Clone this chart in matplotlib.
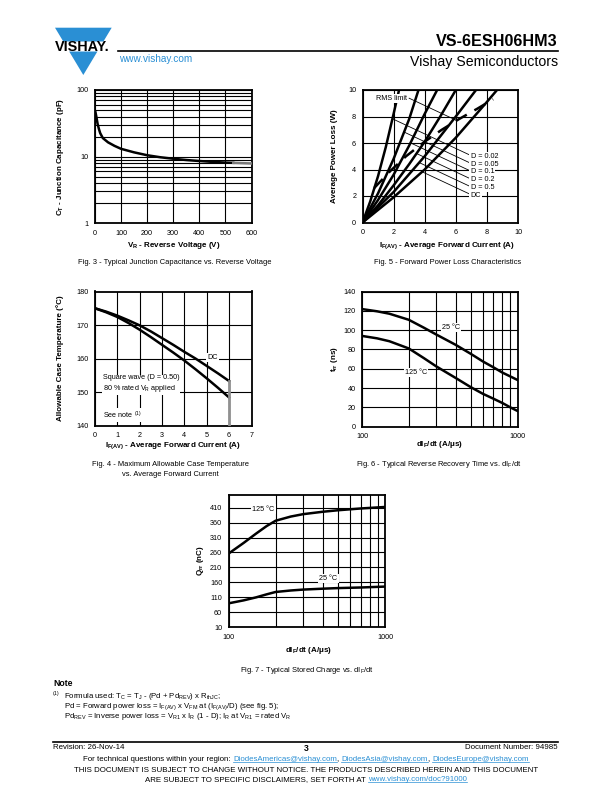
import matplotlib
matplotlib.use("Agg")
import matplotlib.pyplot as plt
import matplotlib.ticker as mt
from matplotlib.patches import Polygon
import numpy as np

plt.rcParams['font.family'] = ['Liberation Sans', 'DejaVu Sans']
plt.rcParams['mathtext.default'] = 'regular'

# ---------------- data ----------------
# Fig. 3 junction capacitance
fig3_vr = [2, 5, 10, 15, 20, 30, 50, 75, 100, 150, 200, 250, 300, 350, 400, 450, 500, 530]
fig3_ct = [46, 40, 31, 26, 22.5, 19, 16.4, 14.5, 13.1, 11.6, 10.5, 9.8, 9.3, 8.9, 8.6, 8.35, 8.15, 8.08]
fig3_tail_vr = [530, 560, 600]
fig3_tail_ct = [8.08, 8.0, 7.9]

# Fig. 5 forward power loss
fig5_d002_i = [0, 0.5, 1.0, 1.5, 2.0, 2.35]
fig5_d002_p = [0, 1.6, 3.5, 5.7, 8.2, 10]
fig5_d005_i = [0, 1.0, 2.0, 3.0, 3.6]
fig5_d005_p = [0, 2.2, 4.8, 7.8, 10]
fig5_d01_i = [0, 1, 2, 3, 4, 4.8]
fig5_d01_p = [0, 1.7, 3.6, 5.8, 8.2, 10]
fig5_d02_i = [0, 1, 2, 3, 4, 5, 6.0]
fig5_d02_p = [0, 1.3, 2.8, 4.4, 6.1, 8.0, 10]
fig5_d05_i = [0, 2, 4, 6, 7.3]
fig5_d05_p = [0, 2.3, 5.0, 8.0, 10]
fig5_dc_i = [0, 2, 4, 6, 8, 8.65]
fig5_dc_p = [0, 1.9, 4.0, 6.4, 9.1, 10]
fig5_rms_i = [0.75, 1.8, 2.8, 4.0, 5.1, 6.2, 7.4, 8.4]
fig5_rms_p = [2.6, 3.9, 5.0, 6.1, 7.0, 7.8, 8.6, 9.3]
fig5_labels = ['D = 0.02', 'D = 0.05', 'D = 0.1', 'D = 0.2', 'D = 0.5', 'DC']
fig5_label_y = [5.0, 4.41, 3.82, 3.23, 2.64, 2.05]

# Fig. 4 allowable case temperature
fig4_i = [0, 0.5, 1, 1.5, 2, 2.5, 3, 3.5, 4, 4.5, 5, 5.5, 6]
fig4_dc = [175, 174.0, 172.8, 171.4, 169.9, 168.1, 166.1, 164.1, 162.0, 160.0, 157.8, 155.6, 153.3]
fig4_sq = [175, 173.8, 172.4, 170.6, 168.6, 166.4, 164.1, 161.8, 159.4, 156.8, 154.1, 151.3, 148.4]

# Fig. 6 reverse recovery time
fig6_didt = [100, 125, 150, 200, 250, 300, 400, 500, 600, 700, 800, 900, 1000]
fig6_t25 = [121.8, 119.5, 117, 110.7, 102.5, 95.5, 84.8, 75.5, 67.5, 61.5, 56, 52, 48.4]
fig6_t125 = [94, 91.5, 88.5, 81, 71, 62.5, 50.5, 41, 34, 29, 24.5, 20, 16.3]

# Fig. 7 stored charge
fig7_didt = [100, 125, 150, 175, 200, 250, 300, 400, 500, 700, 1000]
fig7_q125 = [256, 292, 323, 348, 366, 380, 388, 396, 401, 407, 412]
fig7_q25 = [90, 100, 110, 120, 128, 133, 136, 139, 141, 143, 146]

BLUE = '#2a8fd4'
W, H = 612, 792
fig = plt.figure(figsize=(W / 100, H / 100), dpi=100)

bg = fig.add_axes([0, 0, 1, 1])
bg.set_xlim(0, W)
bg.set_ylim(H, 0)
bg.axis('off')


def add_ax(l, r, t, b):
    ax = fig.add_axes([l / W, 1 - b / H, (r - l) / W, (b - t) / H])
    for s in ax.spines.values():
        s.set_linewidth(1.3)
        s.set_color('black')
    ax.tick_params(which='both', length=0, labelsize=5.2, pad=4.5)
    ax.set_axisbelow(True)
    return ax


def set_labels(ax, box, xl, yl, xpos, ypos):
    l, r, t, b = box
    ax.set_xlabel(xl, fontsize=5.8, fontweight='bold', va='center')
    ax.xaxis.set_label_coords((xpos[0] - l) / (r - l), (b - xpos[1]) / (b - t))
    ax.set_ylabel(yl, fontsize=5.8, fontweight='bold', va='center')
    ax.yaxis.set_label_coords((ypos[0] - l) / (r - l), (b - ypos[1]) / (b - t))


GRID = dict(color='black', lw=0.8)
LW = 1.8
WB = dict(facecolor='white', edgecolor='none', pad=0.8)

# ---------------- header ----------------
bg.add_patch(Polygon([(55, 27.7), (111.7, 27.7), (103.4, 41.5), (63.3, 41.5)],
                     closed=True, color=BLUE, lw=0))
bg.add_patch(Polygon([(69.2, 51.5), (97.4, 51.5), (83.3, 75)], closed=True, color=BLUE, lw=0))
bg.text(82, 46.7, 'VISHAY.', fontsize=10.4, fontweight='bold', ha='center', va='center')
bg.plot([118, 558], [50.5, 50.5], color='black', lw=1.2)
bg.text(119, 58.5, 'www.vishay.com', fontsize=7.2, color=BLUE, ha='left', va='center')
bg.text(558, 41, 'VS-6ESH06HM3', fontsize=11.6, fontweight='bold', ha='right', va='center')
bg.text(558, 62, 'Vishay Semiconductors', fontsize=10.2, ha='right', va='center')

# ---------------- Fig. 3 ----------------
b3 = (95, 251.5, 90, 223.3)
ax3 = add_ax(*b3)
ax3.set_yscale('log')
ax3.set_xlim(0, 600)
ax3.set_ylim(1, 100)
ax3.set_xticks(range(0, 601, 100))
ax3.set_yticks([1, 10, 100], ['1', '10', '100'])
ax3.yaxis.set_minor_formatter(mt.NullFormatter())
ax3.grid(True, which='both', **GRID)
ax3.plot(fig3_vr, fig3_ct, color='black', lw=LW, zorder=3)
ax3.plot(fig3_tail_vr, fig3_tail_ct, color='#7a7a7a', lw=LW, zorder=3)
set_labels(ax3, b3, r'V$_{R}$ - Reverse Voltage (V)', r'C$_{T}$ - Junction Capacitance (pF)',
           (174, 246), (60, 157))
bg.text(175, 263, 'Fig. 3 - Typical Junction Capacitance vs. Reverse Voltage',
        fontsize=5.4, ha='center', va='center')

# ---------------- Fig. 5 ----------------
b5 = (362.5, 518, 90, 222.5)
ax5 = add_ax(*b5)
ax5.set_xlim(0, 10)
ax5.set_ylim(0, 10)
ax5.set_xticks(range(0, 11, 2))
ax5.set_yticks(range(0, 11, 2))
ax5.grid(True, **GRID)
curves5 = [(fig5_d002_i, fig5_d002_p), (fig5_d005_i, fig5_d005_p), (fig5_d01_i, fig5_d01_p),
           (fig5_d02_i, fig5_d02_p), (fig5_d05_i, fig5_d05_p), (fig5_dc_i, fig5_dc_p)]
for ci, cp in curves5:
    ax5.plot(ci, cp, color='black', lw=LW, zorder=3)
ax5.plot(fig5_rms_i, fig5_rms_p, color='black', lw=LW, dashes=(5, 3.5), zorder=3)

SL = 0.55
for (ci, cp), lab, ly in zip(curves5, fig5_labels, fig5_label_y):
    x0, y0 = 6.85, ly + 0.12
    xs = np.linspace(x0, 0, 3000)
    line_y = y0 + (x0 - xs) * SL
    cy = np.interp(xs, ci, cp)
    k = int(np.argmax(cy <= line_y))
    ax5.plot([x0, xs[k]], [y0, line_y[k]], color='black', lw=0.6, zorder=2.5)
    ax5.text(6.95, ly, lab, fontsize=5.2, ha='left', va='center', bbox=WB, zorder=5)
# RMS limit label and leader
ax5.text(2.88, 9.38, 'RMS limit', fontsize=5.2, ha='right', va='center', bbox=WB, zorder=5)
xs = np.linspace(3.0, 10, 3000)
line_y = 9.38 - (xs - 3.0) * SL
cy = np.interp(xs, fig5_rms_i, fig5_rms_p)
k = int(np.argmax(cy >= line_y))
ax5.plot([3.0, xs[k]], [9.38, line_y[k]], color='black', lw=0.6, zorder=2.5)
set_labels(ax5, b5, r'I$_{F(AV)}$ - Average Forward Current (A)', 'Average Power Loss (W)',
           (447, 246), (334, 156))
bg.text(448, 263, 'Fig. 5 - Forward Power Loss Characteristics',
        fontsize=5.4, ha='center', va='center')

# ---------------- Fig. 4 ----------------
b4 = (95, 251.5, 291.5, 425.7)
ax4 = add_ax(*b4)
ax4.set_xlim(0, 7)
ax4.set_ylim(140, 180)
ax4.set_xticks(range(0, 8))
ax4.set_yticks(range(140, 181, 10))
ax4.grid(True, **GRID)
ax4.plot(fig4_i, fig4_dc, color='black', lw=LW, zorder=3)
ax4.plot(fig4_i, fig4_sq, color='black', lw=LW, zorder=3)
ax4.plot([fig4_i[-1], fig4_i[-1]], [fig4_dc[-1], 140], color='#909090', lw=2.0, zorder=3)
ax4.text(5.25, 160.4, 'DC', fontsize=5.2, ha='center', va='center', bbox=WB, zorder=5)
ax4.text(0.34, 152.4, 'Square wave (D = 0.50)\n80 % rated V$_{R}$ applied', fontsize=5.2,
         ha='left', va='center', linespacing=1.2, bbox=WB, zorder=5)
ax4.text(0.34, 143.2, 'See note $^{(1)}$', fontsize=5.2, ha='left', va='center', bbox=WB, zorder=5)
set_labels(ax4, b4, r'I$_{F(AV)}$ - Average Forward Current (A)',
           'Allowable Case Temperature (°C)', (173, 446), (60, 358))
bg.text(170, 465, 'Fig. 4 - Maximum Allowable Case Temperature', fontsize=5.4, ha='center', va='center')
bg.text(170, 474, 'vs. Average Forward Current', fontsize=5.4, ha='center', va='center')

# ---------------- Fig. 6 ----------------
b6 = (362, 517.5, 291.5, 426.7)
ax6 = add_ax(*b6)
ax6.set_xscale('log')
ax6.set_xlim(100, 1000)
ax6.set_ylim(0, 140)
ax6.set_xticks([100, 1000], ['100', '1000'])
ax6.xaxis.set_minor_formatter(mt.NullFormatter())
ax6.set_yticks(range(0, 141, 20))
ax6.grid(True, which='both', **GRID)
ax6.plot(fig6_didt, fig6_t25, color='black', lw=LW, zorder=3)
ax6.plot(fig6_didt, fig6_t125, color='black', lw=LW, zorder=3)
ax6.text(373, 103, '25 °C', fontsize=5.2, ha='center', va='center', bbox=WB, zorder=5)
ax6.text(223, 56.4, '125 °C', fontsize=5.2, ha='center', va='center', bbox=WB, zorder=5)
set_labels(ax6, b6, r'dI$_{F}$/dt (A/μs)', r't$_{rr}$ (ns)', (440, 444), (334, 359))
bg.text(439, 464, r'Fig. 6 - Typical Reverse Recovery Time vs. dI$_{F}$/dt',
        fontsize=5.4, ha='center', va='center')

# ---------------- Fig. 7 ----------------
b7 = (228.5, 385, 495, 627.3)
ax7 = add_ax(*b7)
ax7.set_xscale('log')
ax7.set_xlim(100, 1000)
ax7.set_ylim(10, 452)
ax7.set_xticks([100, 1000], ['100', '1000'])
ax7.xaxis.set_minor_formatter(mt.NullFormatter())
ax7.set_yticks(range(10, 411, 50))
ax7.grid(True, which='both', **GRID)
ax7.plot(fig7_didt, fig7_q125, color='black', lw=LW, zorder=3)
ax7.plot(fig7_didt, fig7_q25, color='black', lw=LW, zorder=3)
ax7.text(167, 405, '125 °C', fontsize=5.2, ha='center', va='center', bbox=WB, zorder=5)
ax7.text(435, 173, '25 °C', fontsize=5.2, ha='center', va='center', bbox=WB, zorder=5)
set_labels(ax7, b7, r'dI$_{F}$/dt (A/μs)', r'Q$_{rr}$ (nC)', (309, 650), (200, 561))
bg.text(307, 671, r'Fig. 7 - Typical Stored Charge vs. dI$_{F}$/dt',
        fontsize=5.4, ha='center', va='center')

# ---------------- note ----------------
bg.text(53, 684, 'Note', fontsize=6.2, fontweight='bold', ha='left', va='center')
bg.text(53, 693.5, '(1)', fontsize=3.8, ha='left', va='center')
NS = 5.6
bg.text(64, 696.4, r'Formula used: T$_{C}$ = T$_{J}$ - (Pd + Pd$_{REV}$) x R$_{thJC}$;',
        fontsize=NS, ha='left', va='center')
bg.text(64, 706.2, r'Pd = Forward power loss = I$_{F(AV)}$ x V$_{FM}$ at (I$_{F(AV)}$/D) (see fig. 5);',
        fontsize=NS, ha='left', va='center')
bg.text(64, 716, r'Pd$_{REV}$ = Inverse power loss = V$_{R1}$ x I$_{R}$ (1 - D); I$_{R}$ at V$_{R1}$ = rated V$_{R}$',
        fontsize=NS, ha='left', va='center')

# ---------------- footer ----------------
bg.plot([53, 558], [742, 742], color='black', lw=1.2)
FS = 5.7
bg.text(53, 747.5, 'Revision: 26-Nov-14', fontsize=FS, ha='left', va='center')
bg.text(306, 748.5, '3', fontsize=6.2, fontweight='bold', ha='center', va='center')
bg.text(558, 747.5, 'Document Number: 94985', fontsize=FS, ha='right', va='center')

renderer = fig.canvas.get_renderer()


def twidth(s):
    t = bg.text(0, 0, s, fontsize=FS)
    w = t.get_window_extent(renderer).width
    t.remove()
    return w


def rich_line(xc, y, segs):
    full = ''.join(s for s, _ in segs)
    wx = twidth('x')
    total = twidth(full)
    x0 = xc - total / 2
    prefix = ''
    for s, link in segs:
        start = x0 + (twidth(prefix + 'x') - wx if prefix else 0)
        end = x0 + twidth(prefix + s + 'x') - wx
        bg.text(start, y, s, fontsize=FS, color=BLUE if link else 'black',
                ha='left', va='baseline')
        if link:
            bg.plot([start, end], [y + 1.3, y + 1.3], color=BLUE, lw=0.5)
        prefix += s


rich_line(306, 761, [('For technical questions within your region: ', False),
                     ('DiodesAmericas@vishay.com', True), (', ', False),
                     ('DiodesAsia@vishay.com', True), (', ', False),
                     ('DiodesEurope@vishay.com', True)])
rich_line(306, 772, [('THIS DOCUMENT IS SUBJECT TO CHANGE WITHOUT NOTICE. THE PRODUCTS DESCRIBED HEREIN AND THIS DOCUMENT', False)])
rich_line(306, 781, [('ARE SUBJECT TO SPECIFIC DISCLAIMERS, SET FORTH AT ', False),
                     ('www.vishay.com/doc?91000', True)])

fig.savefig('out.png', dpi=100)
